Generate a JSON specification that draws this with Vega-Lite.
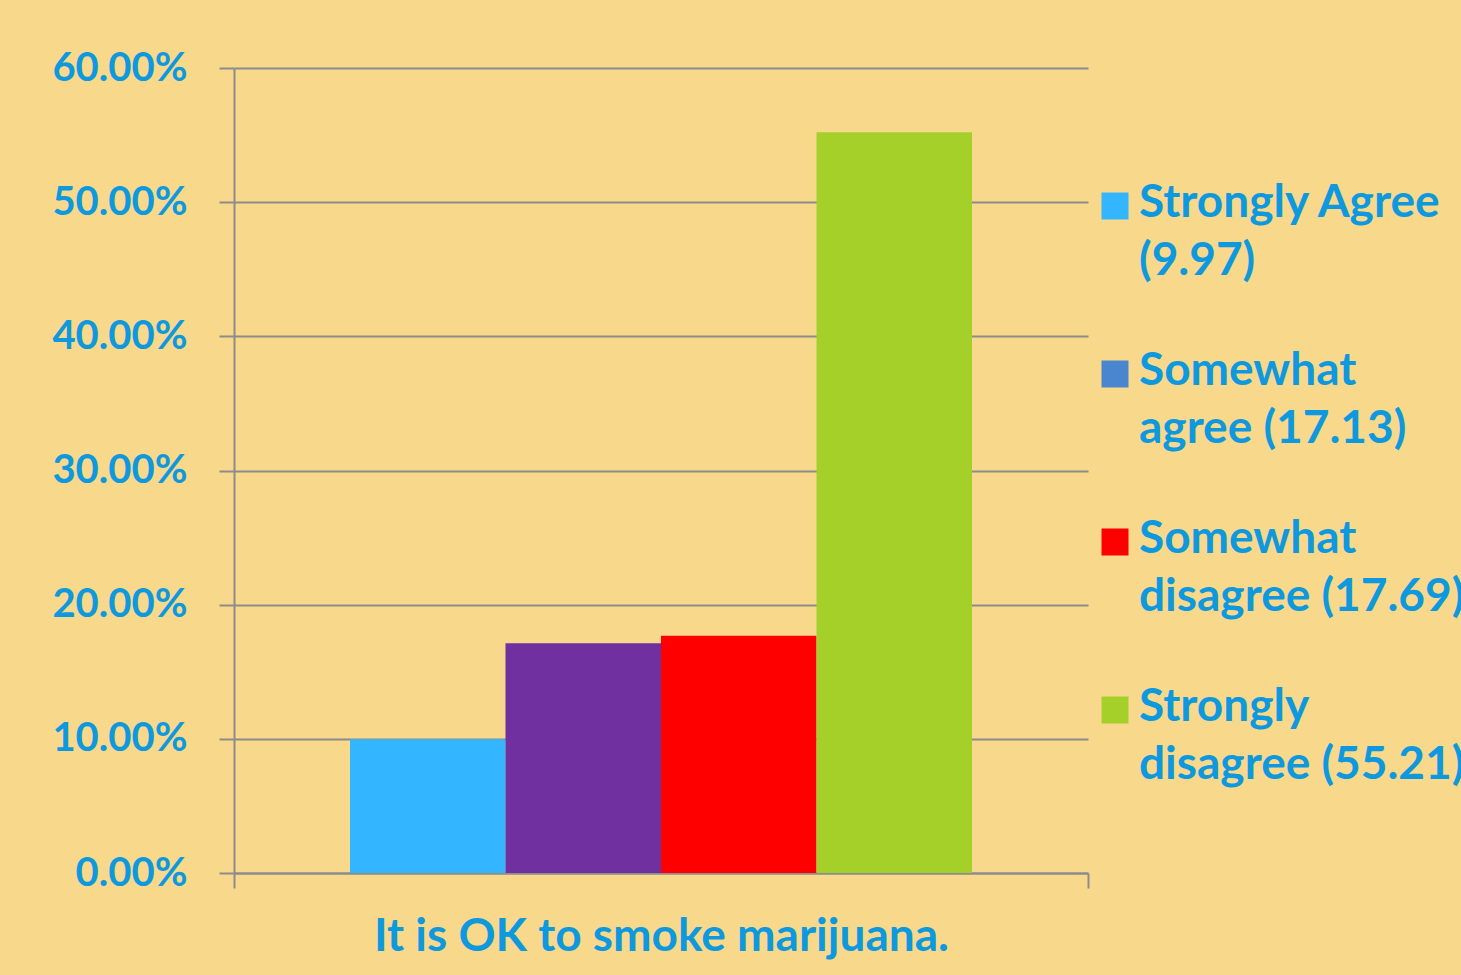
{
  "$schema": "https://vega.github.io/schema/vega-lite/v6.json",
  "width": 854,
  "height": 805,
  "autosize": {"type": "none"},
  "padding": {"left": 234, "top": 68, "right": 373, "bottom": 102},
  "background": "#F8D98C",
  "config": {"view": {"stroke": null}, "font": "Lato"},
  "data": {
    "values": [
      {"question": "It is OK to smoke marijuana.", "response": "Strongly Agree", "pct": 0.0997},
      {"question": "It is OK to smoke marijuana.", "response": "Somewhat agree", "pct": 0.1713},
      {"question": "It is OK to smoke marijuana.", "response": "Somewhat disagree", "pct": 0.1769},
      {"question": "It is OK to smoke marijuana.", "response": "Strongly disagree", "pct": 0.5521}
    ]
  },
  "resolve": {"scale": {"color": "independent"}, "legend": {"color": "independent"}},
  "layer": [
    {
      "mark": {"type": "bar"},
      "encoding": {
        "x": {
          "field": "question",
          "type": "nominal",
          "scale": {"paddingInner": 0, "paddingOuter": 0},
          "axis": {
            "title": null,
            "labelAngle": 0,
            "tickBand": "extent",
            "ticks": true,
            "tickSize": 15,
            "tickColor": "#8C8C8C",
            "tickWidth": 2,
            "domainColor": "#8C8C8C",
            "domainWidth": 2,
            "labelFont": "Lato",
            "labelFontSize": 46,
            "labelFontWeight": "bold",
            "labelColor": "#0E98DE",
            "labelPadding": 26,
            "labelLimit": 0
          }
        },
        "xOffset": {
          "field": "response",
          "type": "nominal",
          "sort": ["Strongly Agree", "Somewhat agree", "Somewhat disagree", "Strongly disagree"],
          "scale": {"paddingInner": 0, "paddingOuter": 0.746}
        },
        "y": {
          "field": "pct",
          "type": "quantitative",
          "scale": {"domain": [0, 0.6]},
          "axis": {
            "title": null,
            "format": ".2%",
            "values": [0, 0.1, 0.2, 0.3, 0.4, 0.5, 0.6],
            "grid": true,
            "gridColor": "#8C8C8C",
            "gridWidth": 2,
            "tickSize": 15,
            "tickColor": "#8C8C8C",
            "tickWidth": 2,
            "domainColor": "#8C8C8C",
            "domainWidth": 2,
            "labelFont": "Lato",
            "labelFontSize": 40,
            "labelFontWeight": "bold",
            "labelColor": "#0E98DE",
            "labelPadding": 32
          }
        },
        "color": {
          "field": "response",
          "type": "nominal",
          "scale": {
            "domain": ["Strongly Agree", "Somewhat agree", "Somewhat disagree", "Strongly disagree"],
            "range": ["#33B5FF", "#7030A0", "#FF0000", "#A5D02A"]
          },
          "legend": null
        }
      }
    },
    {
      "mark": {"type": "point", "shape": "square", "filled": true, "size": 0},
      "encoding": {
        "color": {
          "field": "response",
          "type": "nominal",
          "scale": {
            "domain": ["Strongly Agree", "Somewhat agree", "Somewhat disagree", "Strongly disagree"],
            "range": ["#33B5FF", "#4A86D0", "#FF0000", "#A5D02A"]
          },
          "legend": {
            "title": null,
            "orient": "none",
            "legendX": 858,
            "legendY": 115,
            "padding": 0,
            "symbolType": "square",
            "symbolSize": 729,
            "symbolStrokeWidth": 0,
            "symbolOpacity": 1,
            "labelFont": "Lato",
            "labelFontSize": 46,
            "labelFontWeight": "bold",
            "labelColor": "#0E98DE",
            "labelOffset": 1,
            "labelLimit": 0,
            "labelBaseline": "alphabetic",
            "rowPadding": 64,
            "labelExpr": "datum.label == 'Strongly Agree' ? ['Strongly Agree', '(9.97)'] : datum.label == 'Somewhat agree' ? ['Somewhat', 'agree (17.13)'] : datum.label == 'Somewhat disagree' ? ['Somewhat', 'disagree (17.69)'] : ['Strongly', 'disagree (55.21)']",
            "encode": {
              "labels": {"update": {"lineHeight": {"value": 58}, "dy": {"value": 11}}}
            }
          }
        }
      }
    }
  ]
}
